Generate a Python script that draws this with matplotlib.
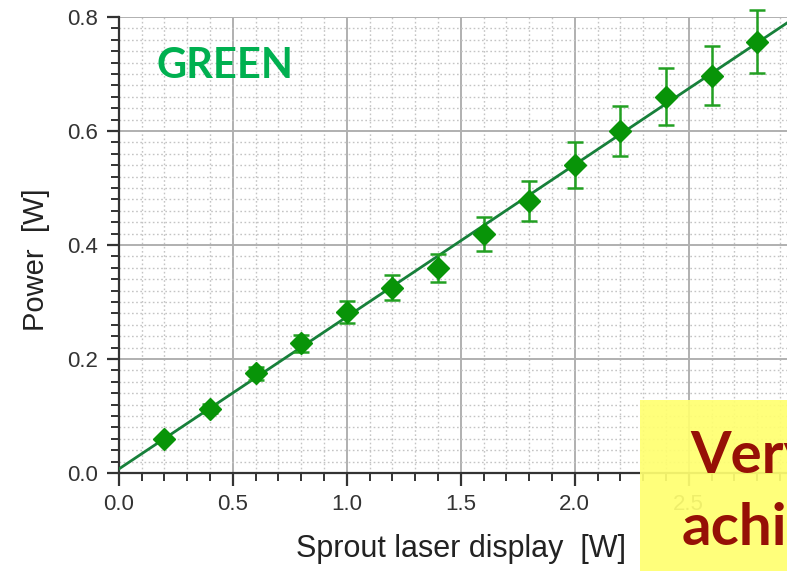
import numpy as np
import matplotlib
matplotlib.use('Agg')
import matplotlib.pyplot as plt
from matplotlib.ticker import MultipleLocator
from matplotlib.patches import Rectangle

# Datos
display_w = [0.2, 0.4, 0.6, 0.8, 1.0, 1.2, 1.4, 1.6, 1.8, 2.0, 2.2, 2.4, 2.6, 2.8]
power_w = [0.060, 0.113, 0.175, 0.228, 0.283, 0.325, 0.360, 0.420, 0.478, 0.540,
           0.600, 0.660, 0.697, 0.757]
power_err = [0.004, 0.008, 0.011, 0.015, 0.019, 0.022, 0.025, 0.030, 0.035, 0.040,
             0.044, 0.050, 0.052, 0.055]
fit_intercept = 0.007
fit_slope = 0.267

plt.rcParams['font.family'] = ['Liberation Sans', 'DejaVu Sans']

fig = plt.figure(figsize=(7.87, 5.71), dpi=100)
ax = fig.add_axes([0.151, 0.1716, 0.869, 0.7986])

ax.set_xlim(0, 3.0)
ax.set_ylim(0, 0.8)

# Rejilla
ax.xaxis.set_major_locator(MultipleLocator(0.5))
ax.xaxis.set_minor_locator(MultipleLocator(0.1))
ax.yaxis.set_major_locator(MultipleLocator(0.2))
ax.yaxis.set_minor_locator(MultipleLocator(0.02))
ax.grid(which='major', color='#b0b0b0', linewidth=1.4)
ax.grid(which='minor', color='#c4c4c4', linewidth=1.0, linestyle=(0, (1.2, 1.8)))
ax.set_axisbelow(True)

for side in ['top', 'right']:
    ax.spines[side].set_visible(False)
for side in ['left', 'bottom']:
    ax.spines[side].set_color('#333333')
    ax.spines[side].set_linewidth(1.6)

ax.tick_params(which='major', direction='out', length=9, width=1.6, color='#333333',
               labelsize=16, labelcolor='#333333', pad=6)
ax.tick_params(which='minor', direction='out', length=6, width=1.4, color='#333333')
ax.set_xticks([0.0, 0.5, 1.0, 1.5, 2.0, 2.5, 3.0])
ax.set_xticklabels(['0.0', '0.5', '1.0', '1.5', '2.0', '2.5', '3.0'])
ax.set_yticks([0.0, 0.2, 0.4, 0.6, 0.8])
ax.set_yticklabels(['0.0', '0.2', '0.4', '0.6', '0.8'])

# Linea de ajuste
xs = np.array([0.0, 3.0])
ax.plot(xs, fit_intercept + fit_slope * xs, color='#17803a', linewidth=2, zorder=3)

# Puntos con barras de error
ax.errorbar(display_w, power_w, yerr=power_err, fmt='D', color='#089408',
            markersize=11, ecolor='#22a022', elinewidth=1.8, capsize=6, capthick=1.8,
            zorder=4, clip_on=False)

ax.set_xlabel('Sprout laser display  [W]', fontsize=22, color='#222222')
ax.set_ylabel('Power  [W]', fontsize=21, color='#222222')
ax.xaxis.set_label_coords(0.5, -0.133)
ax.yaxis.set_label_coords(-0.1, 0.467)

fig.text(157 / 787, 1 - 78 / 571, 'GREEN', fontsize=30, fontweight='bold',
         color='#00b050', family=['Lato', 'DejaVu Sans'], va='baseline')

# Cuadro amarillo superpuesto
fig.patches.append(Rectangle((640 / 787, 0), 1, 171 / 571, transform=fig.transFigure,
                             facecolor='#ffff70', alpha=0.92, edgecolor='none', zorder=10))
fig.text(690 / 787, 1 - 473 / 571, 'Very', fontsize=42, fontweight='bold',
         color='#961006', family=['Lato', 'DejaVu Sans'], va='baseline', zorder=11)
fig.text(682 / 787, 1 - 545 / 571, 'achieved', fontsize=42, fontweight='bold',
         color='#961006', family=['Lato', 'DejaVu Sans'], va='baseline', zorder=11)

fig.savefig('out.png', dpi=100, facecolor='white')
